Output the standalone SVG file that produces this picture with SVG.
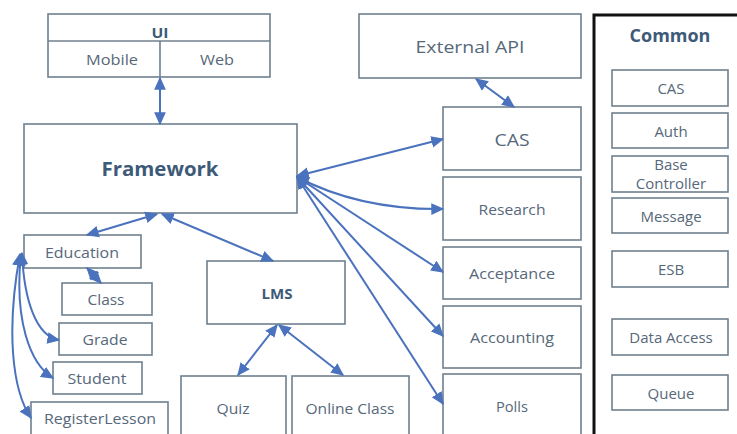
<svg xmlns="http://www.w3.org/2000/svg" width="737" height="434" viewBox="0 0 737 434">
  <style>
    .box { fill: #ffffff; stroke: #6f808f; stroke-width: 1.6; }
    .lbl { font-family: "Open Sans", "Liberation Sans", sans-serif; fill: #56687a; text-anchor: middle; dominant-baseline: central; }
    .bold { font-weight: bold; fill: #3d5a78; }
    .cm { font-size: 15px; }
    .link { fill: none; stroke: #4a72bd; stroke-width: 2; }
  </style>
  <defs>
    <marker id="arrow" viewBox="0 0 10 10" refX="9" refY="5" markerWidth="6.5" markerHeight="6.5" orient="auto-start-reverse" markerUnits="strokeWidth">
      <path d="M0,0.5 L10,5 L0,9.5 Z" fill="#4a72bd"/>
    </marker>
  </defs>
  <rect width="737" height="434" fill="#ffffff"/>

  <!-- Common panel -->
  <g id="common">
    <rect x="594" y="15" width="150" height="430" fill="#ffffff" stroke="#111111" stroke-width="3"/>
    <text class="lbl bold" x="670" y="35" font-size="18">Common</text>
  </g>
  <g id="common-cas"><rect class="box" x="612" y="70" width="116" height="36"/><text class="lbl cm" x="671" y="88">CAS</text></g>
  <g id="common-auth"><rect class="box" x="612" y="113" width="116" height="35"/><text class="lbl cm" x="671" y="131">Auth</text></g>
  <g id="common-base"><rect class="box" x="612" y="156" width="116" height="36"/><text class="lbl cm" x="671" y="164">Base</text><text class="lbl cm" x="671" y="183">Controller</text></g>
  <g id="common-message"><rect class="box" x="612" y="198" width="116" height="35"/><text class="lbl cm" x="671" y="216">Message</text></g>
  <g id="common-esb"><rect class="box" x="612" y="251" width="116" height="36"/><text class="lbl cm" x="671" y="269">ESB</text></g>
  <g id="common-data"><rect class="box" x="612" y="319" width="116" height="36"/><text class="lbl cm" x="671" y="337">Data Access</text></g>
  <g id="common-queue"><rect class="box" x="612" y="375" width="116" height="35"/><text class="lbl cm" x="671" y="393">Queue</text></g>

  <!-- UI -->
  <g id="ui">
    <rect class="box" x="48" y="14" width="222" height="63"/>
    <line x1="48" y1="41" x2="270" y2="41" stroke="#6f808f" stroke-width="1.6"/>
    <line x1="160" y1="41" x2="160" y2="77" stroke="#6f808f" stroke-width="1.6"/>
    <text class="lbl bold" x="160" y="32" font-size="15" textLength="17" lengthAdjust="spacingAndGlyphs">UI</text>
    <text class="lbl" x="112" y="59" font-size="14" textLength="52" lengthAdjust="spacingAndGlyphs">Mobile</text>
    <text class="lbl" x="217" y="59" font-size="14" textLength="34" lengthAdjust="spacingAndGlyphs">Web</text>
  </g>

  <g id="framework"><rect class="box" x="24" y="124" width="273" height="89"/><text class="lbl bold" x="160" y="169" font-size="19" textLength="117" lengthAdjust="spacingAndGlyphs">Framework</text></g>

  <g id="external-api"><rect class="box" x="359" y="14" width="222" height="64"/><text class="lbl" x="470" y="46" font-size="17" textLength="109" lengthAdjust="spacingAndGlyphs">External API</text></g>
  <g id="cas"><rect class="box" x="443" y="107" width="138" height="63"/><text class="lbl" x="512" y="139" font-size="17" textLength="35" lengthAdjust="spacingAndGlyphs">CAS</text></g>
  <g id="research"><rect class="box" x="443" y="177" width="138" height="63"/><text class="lbl" x="512" y="209" font-size="15" textLength="67" lengthAdjust="spacingAndGlyphs">Research</text></g>
  <g id="acceptance"><rect class="box" x="443" y="247" width="138" height="52"/><text class="lbl" x="512" y="273" font-size="15" textLength="86" lengthAdjust="spacingAndGlyphs">Acceptance</text></g>
  <g id="accounting"><rect class="box" x="443" y="306" width="138" height="62"/><text class="lbl" x="512" y="337" font-size="15" textLength="84" lengthAdjust="spacingAndGlyphs">Accounting</text></g>
  <g id="polls"><rect class="box" x="443" y="374" width="138" height="80"/><text class="lbl" x="512" y="406" font-size="15" textLength="32" lengthAdjust="spacingAndGlyphs">Polls</text></g>

  <g id="education"><rect class="box" x="24" y="235" width="117" height="33"/><text class="lbl" x="82" y="252" font-size="14" textLength="74" lengthAdjust="spacingAndGlyphs">Education</text></g>
  <g id="class"><rect class="box" x="62" y="283" width="90" height="32"/><text class="lbl" x="106" y="299" font-size="14" textLength="37" lengthAdjust="spacingAndGlyphs">Class</text></g>
  <g id="grade"><rect class="box" x="59" y="323" width="93" height="32"/><text class="lbl" x="105" y="339" font-size="14" textLength="45" lengthAdjust="spacingAndGlyphs">Grade</text></g>
  <g id="student"><rect class="box" x="53" y="362" width="89" height="32"/><text class="lbl" x="97" y="378" font-size="14" textLength="59" lengthAdjust="spacingAndGlyphs">Student</text></g>
  <g id="register-lesson"><rect class="box" x="31" y="402" width="137" height="40"/><text class="lbl" x="100" y="418" font-size="14" textLength="112" lengthAdjust="spacingAndGlyphs">RegisterLesson</text></g>

  <g id="lms"><rect class="box" x="207" y="261" width="138" height="63"/><text class="lbl bold" x="277" y="293" font-size="14" textLength="31" lengthAdjust="spacingAndGlyphs">LMS</text></g>
  <g id="quiz"><rect class="box" x="181" y="376" width="105" height="70"/><text class="lbl" x="233" y="408" font-size="15" textLength="33" lengthAdjust="spacingAndGlyphs">Quiz</text></g>
  <g id="online-class"><rect class="box" x="292" y="376" width="117" height="70"/><text class="lbl" x="350" y="408" font-size="15" textLength="89" lengthAdjust="spacingAndGlyphs">Online Class</text></g>

  <!-- Connectors -->
  <g id="connectors" class="link" marker-start="url(#arrow)" marker-end="url(#arrow)">
    <path d="M160,78 L160,124"/>
    <path d="M157,214 L87,235"/>
    <path d="M162,214 L273,261"/>
    <path d="M87,268 L101,283"/>
    <path d="M22,253 C24,300 36,336 59,340"/>
    <path d="M21,254 C14,320 30,364 53,378"/>
    <path d="M20,254 C6,330 12,390 31,418"/>
    <path d="M476,79 L514,107"/>
    <path d="M297,176 L443,139"/>
    <path d="M297,177 Q360,210 443,209"/>
    <path d="M297,177 L443,272"/>
    <path d="M297,177 L443,336"/>
    <path d="M297,177 L443,404"/>
    <path d="M277,325 L238,375"/>
    <path d="M279,325 L343,375"/>
  </g>
</svg>
